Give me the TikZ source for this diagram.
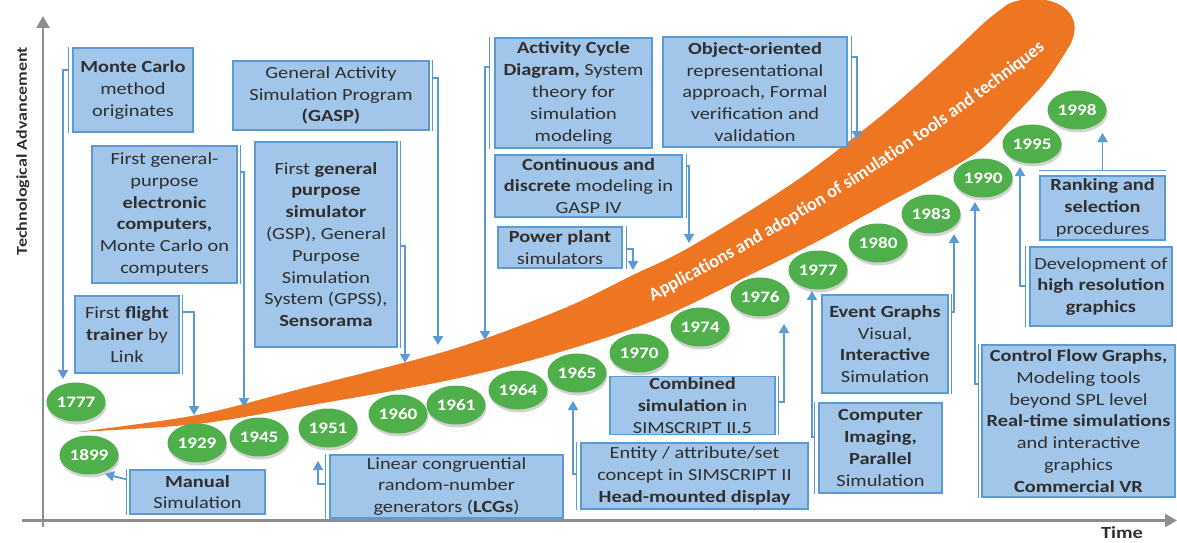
\documentclass[tikz,border=0pt]{standalone}
\usepackage{fontspec}
\setmainfont{Carlito}[FakeStretch=1.2]
\newfontfamily\bandfamily{Carlito}
\usetikzlibrary{shapes.geometric,arrows.meta,calc,shadows,decorations.text}

\definecolor{boxfill}{HTML}{A2C6E9}
\definecolor{boxline}{HTML}{5B9BD5}
\definecolor{conn}{HTML}{5B9BD5}
\definecolor{yrgreen}{HTML}{4FAF4A}
\definecolor{bandorange}{HTML}{EE7623}
\definecolor{txt}{HTML}{2F2F2F}
\definecolor{axisgray}{HTML}{8E8E8E}

\newcommand\boxfont{\fontsize{17}{21.8}\selectfont}
\newcommand\yrfont{\fontsize{16}{18}\selectfont\bfseries}
\newcommand\bandfont{\bandfamily\fontsize{18.3}{18}\selectfont\bfseries\color{white}}

\begin{document}
\begin{tikzpicture}[x=1pt,y=-1pt,
  box/.style={draw=boxline, fill=boxfill, line width=1.4pt, align=center,
    inner sep=1pt, font=\boxfont, text=txt},
  yr/.style={ellipse, fill=yrgreen, minimum width=59pt, minimum height=39pt,
    inner sep=0pt, text=white, font=\yrfont,
    drop shadow={shadow xshift=1pt, shadow yshift=-3pt, opacity=0.35}},
  arr/.style={draw=conn, line width=1.8pt, -{Triangle[width=10pt,length=9pt]}},
  side/.style={draw=conn, line width=1.2pt},
  axis/.style={draw=axisgray, line width=2.4pt, -{Triangle[width=13pt,length=12pt]}},
]
\useasboundingbox (0,0) rectangle (1177,543);

% axes
\coordinate (ytop) at (43,16);
\coordinate (ybot) at (43,527);
\coordinate (xleft) at (22,520.5);
\coordinate (xright) at (1177,520.5);
\draw[axis] (ybot) -- (ytop);
\draw[axis] (xleft) -- (xright);
\node[rotate=90, font=\fontsize{15}{15}\selectfont\bfseries, text=txt] (ylab) at (23,151) {Technological Advancement};
\node[font=\fontsize{17}{17}\selectfont\bfseries, text=txt] (xlab) at (1122,533) {Time};

% orange growth band
\fill[bandorange] plot[smooth, tension=0.55] coordinates {(77,432) (197,415) (300,389) (450,350) (560,310) (633,275) (690,247) (790,185) (857,135) (900,100) (950,55) (985,22) (1008,4)}
  .. controls (1040,-10) and (1090,5) .. (1070,45)
  -- plot[smooth, tension=0.55] coordinates {(1070,45) (1047,80) (1015,115) (980,150) (930,180) (880,207) (820,240) (760,270) (660,318) (560,352) (450,380) (300,407) (197,424) (77,432)} -- cycle;
\path[decorate, decoration={text along path, text align=center,
  text={|\bandfont|Applications and adoption of simulation tools and techniques}}]
  (647,304) .. controls (788,231) and (930,142) .. (1050,45);

% years
\node[yr] (y1777) at (76,402) {1777};
\node[yr] (y1899) at (89,455) {1899};
\node[yr] (y1929) at (197,443) {1929};
\node[yr] (y1945) at (259,437) {1945};
\node[yr] (y1951) at (328,428) {1951};
\node[yr] (y1960) at (398,414) {1960};
\node[yr] (y1961) at (456,405) {1961};
\node[yr] (y1964) at (518,390) {1964};
\node[yr] (y1965) at (577,373) {1965};
\node[yr] (y1970) at (639,353) {1970};
\node[yr] (y1974) at (700,327) {1974};
\node[yr] (y1976) at (760,297) {1976};
\node[yr] (y1977) at (818,270) {1977};
\node[yr] (y1980) at (878,243) {1980};
\node[yr] (y1983) at (931,214) {1983};
\node[yr] (y1990) at (983,178) {1990};
\node[yr] (y1995) at (1032,144) {1995};
\node[yr] (y1998) at (1077,110) {1998};

% milestone boxes
\node[box, minimum width=120pt, minimum height=84pt] (mc) at (133,90) {\textbf{Monte Carlo}\\method\\originates};
\node[box, minimum width=196pt, minimum height=69pt] (gasp) at (331,95.5) {General Activity\\Simulation Program\\\textbf{(GASP)}};
\node[box, minimum width=145pt, minimum height=137pt] (epc) at (164.5,214.5) {First general-\\purpose\\\textbf{electronic}\\\textbf{computers,}\\Monte Carlo on\\computers};
\node[box, minimum width=104pt, minimum height=77pt] (flight) at (127,334.5) {First \textbf{flight}\\\textbf{trainer} by\\Link};
\node[box, minimum width=142pt, minimum height=205pt] (gsp) at (326,244.5) {First \textbf{general}\\\textbf{purpose}\\\textbf{simulator}\\(GSP), General\\Purpose\\Simulation\\System (GPSS),\\\textbf{Sensorama}};
\node[box, minimum width=135pt, minimum height=44pt] (manual) at (197.5,492) {\textbf{Manual}\\Simulation};
\node[box, minimum width=233pt, minimum height=63pt] (lcg) at (446.5,486.5) {Linear congruential\\random-number\\generators (\textbf{LCGs})};
\node[box, minimum width=227pt, minimum height=66pt] (entity) at (694.5,476) {Entity / attribute/set\\concept in SIMSCRIPT II\\\textbf{Head-mounted display}};
\node[box, minimum width=165pt, minimum height=57pt] (comb) at (692.5,405.5) {\textbf{Combined}\\\textbf{simulation} in\\SIMSCRIPT II.5};
\node[box, minimum width=126pt, minimum height=98pt] (event) at (885,344) {\textbf{Event Graphs}\\Visual,\\\textbf{Interactive}\\Simulation};
\node[box, minimum width=123pt, minimum height=90pt] (cimg) at (880.5,448) {\textbf{Computer}\\\textbf{Imaging,}\\\textbf{Parallel}\\Simulation};
\node[box, minimum width=157pt, minimum height=110pt] (acd) at (573.5,93) {\textbf{Activity Cycle}\\\textbf{Diagram,} System\\theory for\\simulation\\modeling};
\node[box, minimum width=184pt, minimum height=110pt] (oo) at (755,92) {\textbf{Object-oriented}\\representational\\approach, Formal\\verification and\\validation};
\node[box, minimum width=187pt, minimum height=62pt] (cont) at (588.5,186) {\textbf{Continuous and}\\\textbf{discrete} modeling in\\GASP IV};
\node[box, minimum width=124pt, minimum height=41pt] (power) at (560,247.5) {\textbf{Power plant}\\simulators};
\node[box, minimum width=125pt, minimum height=64pt] (rank) at (1102.5,208) {\textbf{Ranking and}\\\textbf{selection}\\procedures};
\node[box, minimum width=142pt, minimum height=79pt] (dev) at (1101,286.5) {Development of\\\textbf{high resolution}\\\textbf{graphics}};
\node[box, minimum width=193pt, minimum height=152pt] (cfg) at (1078.5,421) {\textbf{Control Flow Graphs,}\\Modeling tools\\beyond SPL level\\\textbf{Real-time simulations}\\and interactive\\graphics\\\textbf{Commercial VR}};

% arrow end points on the band and below the years
\coordinate (tmc) at (63,379);
\coordinate (tepc) at (244,407);
\coordinate (tfl) at (194,415);
\coordinate (tgasp) at (438,345);
\coordinate (tgsp) at (405,363);
\coordinate (t1899) at (105,474);
\coordinate (tlcg) at (318,461);
\coordinate (tent) at (573,401);
\coordinate (tcomb) at (784,324);
\coordinate (tev) at (954,234);
\coordinate (tci) at (812,291);
\coordinate (tacd) at (485,340);
\coordinate (too) at (857,140);
\coordinate (tcont) at (689,243);
\coordinate (tpow) at (633,270);
\coordinate (trank) at (1102.5,133);
\coordinate (tdev) at (1020,167);
\coordinate (tcfg) at (975,202);

% connectors
\draw[side] ($(mc.north west)+(-4,0)$) -- ($(mc.south west)+(-4,0)$);
\draw[arr] ($(mc.north west)+(-4,23)$) -| (tmc);

\draw[side] ($(epc.north east)+(3,0)$) -- ($(epc.south east)+(3,0)$);
\draw[arr] ($(epc.north east)+(3,27)$) -| (tepc);

\draw[side] ($(flight.north east)+(3,0)$) -- ($(flight.south east)+(3,0)$);
\draw[arr] ($(flight.north east)+(3,17)$) -| (tfl);

\draw[side] ($(gasp.north east)+(3,0)$) -- ($(gasp.south east)+(3,0)$);
\draw[arr] ($(gasp.north east)+(3,18)$) -| (tgasp);

\draw[side] ($(gsp.north east)+(3,0)$) -- ($(gsp.south east)+(3,0)$);
\draw[arr] ($(gsp.north east)+(3,105)$) -| (tgsp);

\draw[side] ($(manual.north west)+(-3,0)$) -- ($(manual.south west)+(-3,0)$);
\draw[arr] ($(manual.north west)+(-3,10)$) -- (t1899);

\draw[side] ($(lcg.north west)+(-4,0)$) -- ($(lcg.south west)+(-4,0)$);
\draw[arr] ($(lcg.north west)+(-4,30)$) -| (tlcg);

\draw[side] ($(entity.north west)+(-4,0)$) -- ($(entity.south west)+(-4,0)$);
\draw[arr] ($(entity.north west)+(-4,32)$) -| (tent);

\draw[side] ($(comb.north east)+(3,0)$) -- ($(comb.south east)+(3,0)$);
\draw[arr] ($(comb.north east)+(3,26)$) -| (tcomb);

\draw[side] ($(event.north east)+(3,0)$) -- ($(event.south east)+(3,0)$);
\draw[arr] ($(event.north east)+(3,18)$) -| (tev);

\draw[side] ($(cimg.north west)+(-4,0)$) -- ($(cimg.south west)+(-4,0)$);
\draw[arr] ($(cimg.north west)+(-4,35)$) -| (tci);

\draw[side] ($(acd.north west)+(-5,0)$) -- ($(acd.south west)+(-5,0)$);
\draw[arr] ($(acd.north west)+(-5,30)$) -| (tacd);

\draw[side] ($(oo.north east)+(4,0)$) -- ($(oo.south east)+(4,0)$);
\draw[arr] ($(oo.north east)+(4,21)$) -| (too);

\draw[side] ($(cont.north east)+(4,0)$) -- ($(cont.south east)+(4,0)$);
\draw[arr] ($(cont.north east)+(4,12)$) -| (tcont);

\draw[side] ($(power.north east)+(4,0)$) -- ($(power.south east)+(4,0)$);
\draw[arr] ($(power.north east)+(4,23)$) -| (tpow);

\draw[side] ($(rank.north west)+(0,-5)$) -- ($(rank.north east)+(0,-5)$);
\draw[arr] ($(rank.north)+(0,-5)$) -- (trank);

\draw[side] ($(dev.north west)+(-4,0)$) -- ($(dev.south west)+(-4,0)$);
\draw[arr] ($(dev.north west)+(-4,40)$) -| (tdev);

\draw[side] ($(cfg.north west)+(-3,0)$) -- ($(cfg.south west)+(-3,0)$);
\draw[arr] ($(cfg.north west)+(-3,40)$) -| (tcfg);
\end{tikzpicture}
\end{document}
